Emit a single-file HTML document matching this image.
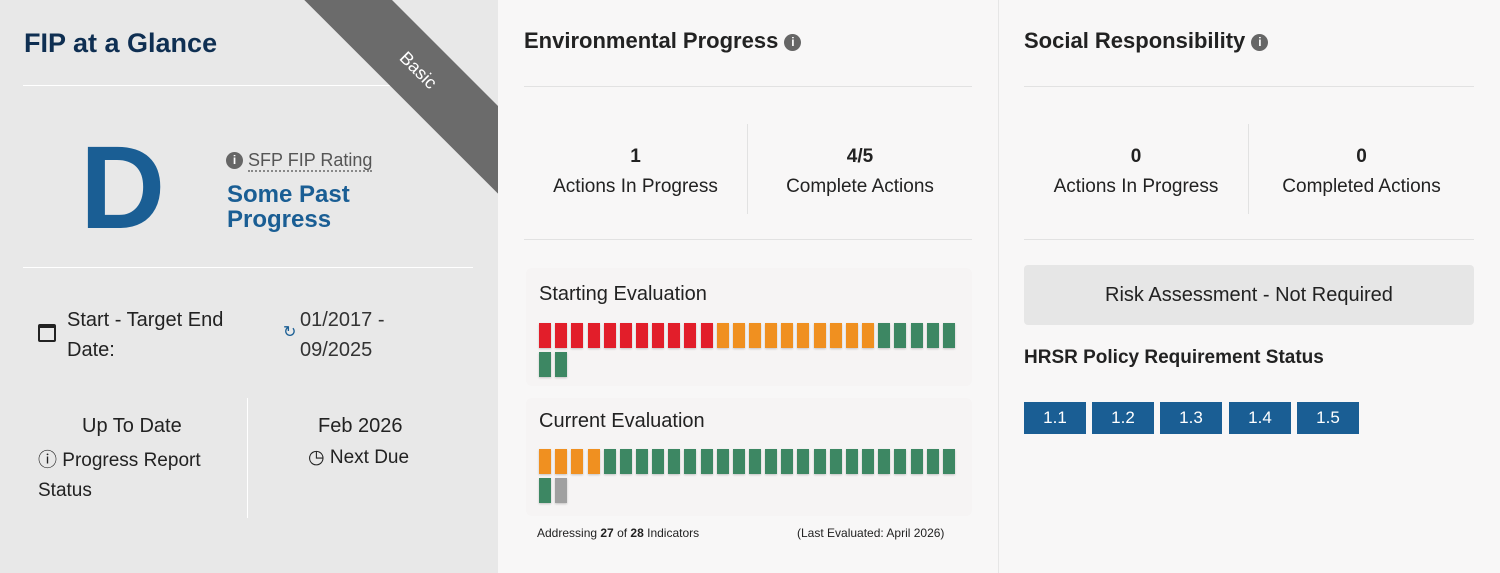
<!DOCTYPE html>
<html><head><style>
*{margin:0;padding:0;box-sizing:border-box}
body{width:1500px;height:573px;overflow:hidden;font-family:"Liberation Sans","DejaVu Sans",sans-serif;background:#f8f7f7;position:relative;color:#222}
.a{position:absolute}
.left{left:0;top:0;width:498px;height:573px;background:#e8e8e8;overflow:hidden}
.mid{left:498px;top:0;width:500px;height:573px;background:#f8f7f7}
.right{left:998px;top:0;width:502px;height:573px;background:#f8f7f7;border-left:1px solid #e6e6e6}
.hr{height:1px;background:#fff}
.hr2{height:1px;background:#e2e2e2}
.info{display:inline-block;width:17px;height:17px;border-radius:50%;background:#666;color:#fff;font-size:12px;font-weight:bold;text-align:center;line-height:17px;vertical-align:2px}
.sq{position:absolute;width:12px;height:25px;box-shadow:0 1px 2px rgba(0,0,0,.2)}
.r{background:#e21e2a}.o{background:#f09020}.g{background:#3d8763}.y{background:#a0a0a0}
.btn{position:absolute;top:402px;width:62px;height:32px;background:#1a5e94;color:#fff;font-size:17px;text-align:center;line-height:32px}
</style></head><body>
<div class="a left">
 <div class="a" style="left:24px;top:28px;font-size:27px;font-weight:bold;color:#0f2f52">FIP at a Glance</div>
 <div class="a hr" style="left:23px;top:85px;width:450px"></div>
 <div class="a" style="left:310px;top:-82px;width:330px;height:62px;background:#6b6b6b;transform-origin:0 0;transform:rotate(45deg);z-index:2"></div>
 <div class="a" style="left:396px;top:60px;color:#fff;font-size:18px;transform:rotate(45deg);z-index:3">Basic</div>
 <div class="a" style="left:80px;top:128px;font-size:118px;font-weight:bold;color:#1a5e94;line-height:120px">D</div>
 <div class="a" style="left:226px;top:150px;font-size:18px;color:#555"><span class="info">i</span> <span style="border-bottom:2px dotted #888">SFP FIP Rating</span></div>
 <div class="a" style="left:227px;top:182px;font-size:24px;font-weight:bold;color:#1a5e94;line-height:25px">Some Past<br>Progress</div>
 <div class="a hr" style="left:23px;top:267px;width:450px"></div>
 <div class="a" style="left:38px;top:324px;width:18px;height:18px;border:2px solid #222;border-top-width:4px;border-radius:2px"></div>
 <div class="a" style="left:67px;top:305px;font-size:20px;line-height:30px;color:#222">Start - Target End<br>Date:</div>
 <div class="a" style="left:283px;top:322px;font-size:16px;color:#1a5e94">↻</div>
 <div class="a" style="left:300px;top:305px;font-size:20px;line-height:30px;color:#333">01/2017 -<br>09/2025</div>
 <div class="a" style="left:247px;top:398px;width:1px;height:120px;background:#fff"></div>
 <div class="a" style="left:82px;top:415px;font-size:20px">Up To Date</div>
 <div class="a" style="left:38px;top:446px;font-size:19px;line-height:30px">ⓘ Progress Report<br>Status</div>
 <div class="a" style="left:318px;top:415px;font-size:20px">Feb 2026</div>
 <div class="a" style="left:308px;top:446px;font-size:19px">◷ Next Due</div>
</div>
<div class="a mid">
 <div class="a" style="left:26px;top:28px;font-size:22px;font-weight:bold">Environmental Progress <span class="info">i</span></div>
 <div class="a hr2" style="left:26px;top:86px;width:448px"></div>
 <div class="a" style="left:26px;top:142px;width:223px;text-align:center;font-size:19px;line-height:30px"><b>1</b><br>Actions In Progress</div>
 <div class="a" style="left:249px;top:124px;width:1px;height:90px;background:#e2e2e2"></div>
 <div class="a" style="left:250px;top:142px;width:224px;text-align:center;font-size:19px;line-height:30px"><b>4/5</b><br>Complete Actions</div>
 <div class="a hr2" style="left:26px;top:239px;width:448px"></div>
 <div class="a" style="left:28px;top:268px;width:446px;height:118px;background:#f6f4f4;border-radius:6px"></div>
 <div class="a" style="left:41px;top:283px;font-size:20px">Starting Evaluation</div>
 <div class="a" style="left:28px;top:398px;width:446px;height:118px;background:#f6f4f4;border-radius:6px"></div>
 <div class="a" style="left:41px;top:410px;font-size:20px">Current Evaluation</div>
 <div class="a" style="left:39px;top:526px;font-size:12px">Addressing <b>27</b> of <b>28</b> Indicators</div>
 <div class="a" style="left:299px;top:526px;font-size:12px">(Last Evaluated: April 2026)</div>
</div>
<div id="sq"></div>
<div class="a right">
 <div class="a" style="left:25px;top:28px;font-size:22px;font-weight:bold">Social Responsibility <span class="info">i</span></div>
 <div class="a hr2" style="left:25px;top:86px;width:450px"></div>
 <div class="a" style="left:25px;top:142px;width:224px;text-align:center;font-size:19px;line-height:30px"><b>0</b><br>Actions In Progress</div>
 <div class="a" style="left:249px;top:124px;width:1px;height:90px;background:#e2e2e2"></div>
 <div class="a" style="left:250px;top:142px;width:225px;text-align:center;font-size:19px;line-height:30px"><b>0</b><br>Completed Actions</div>
 <div class="a hr2" style="left:25px;top:239px;width:450px"></div>
 <div class="a" style="left:25px;top:265px;width:450px;height:60px;background:#e6e6e6;border-radius:4px;text-align:center;line-height:60px;font-size:20px">Risk Assessment - Not Required</div>
 <div class="a" style="left:25px;top:347px;font-size:19px;font-weight:bold">HRSR Policy Requirement Status</div>
 <div class="btn" style="left:25px">1.1</div>
 <div class="btn" style="left:93px">1.2</div>
 <div class="btn" style="left:161px">1.3</div>
 <div class="btn" style="left:230px">1.4</div>
 <div class="btn" style="left:298px">1.5</div>
</div>
<script>
function row(y,cls){var h='';for(var i=0;i<cls.length;i++){h+='<div class="sq '+cls[i]+'" style="left:'+(539+i*16.15).toFixed(1)+'px;top:'+y+'px"></div>';}return h;}
var s='r'.repeat(11)+'o'.repeat(10)+'g'.repeat(5);
var c='o'.repeat(4)+'g'.repeat(22);
document.getElementById('sq').innerHTML=row(323,s)+row(352,'gg')+row(449,c)+row(478,'gy');
</script>
</body></html>
